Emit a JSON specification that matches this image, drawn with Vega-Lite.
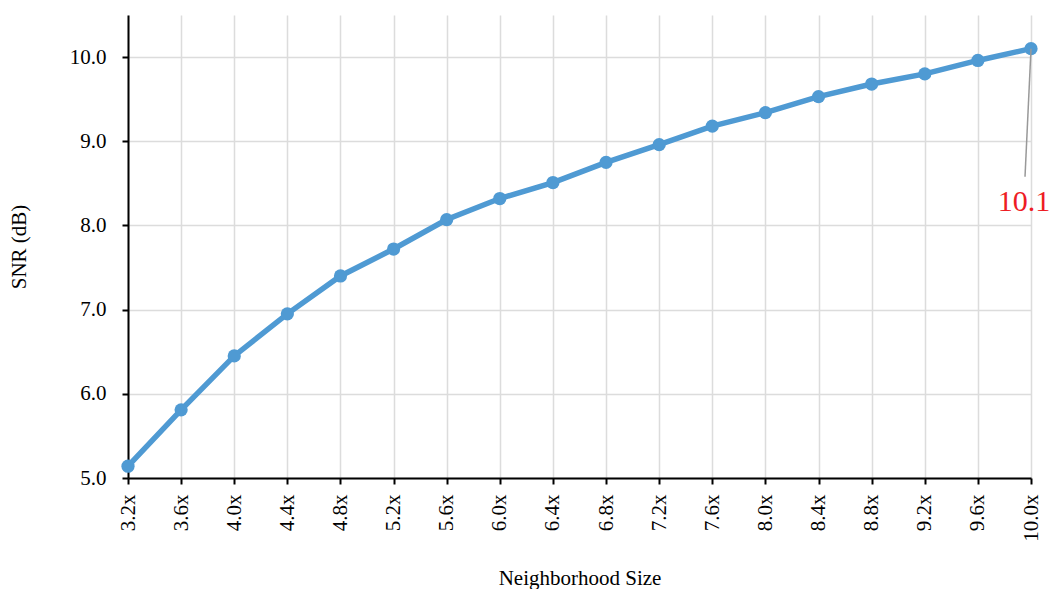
{
  "$schema": "https://vega.github.io/schema/vega-lite/v6.json",
  "width": 903,
  "height": 463,
  "autosize": {"type": "none"},
  "padding": {"left": 128, "top": 15, "right": 20, "bottom": 111},
  "background": "white",
  "config": {
    "font": "Liberation Serif",
    "view": {"stroke": null},
    "axis": {
      "labelFont": "Liberation Serif",
      "titleFont": "Liberation Serif",
      "labelFontSize": 21,
      "titleFontSize": 21,
      "titleFontWeight": "normal",
      "labelColor": "#000",
      "titleColor": "#000",
      "domainColor": "#000",
      "domainWidth": 2,
      "tickColor": "#000",
      "tickWidth": 2,
      "tickSize": 6,
      "gridColor": "#dcdcdc",
      "gridWidth": 1.5
    }
  },
  "data": {
    "values": [
      {"size": "3.2x", "snr": 5.14},
      {"size": "3.6x", "snr": 5.81},
      {"size": "4.0x", "snr": 6.45},
      {"size": "4.4x", "snr": 6.95},
      {"size": "4.8x", "snr": 7.40},
      {"size": "5.2x", "snr": 7.72},
      {"size": "5.6x", "snr": 8.07},
      {"size": "6.0x", "snr": 8.32},
      {"size": "6.4x", "snr": 8.51},
      {"size": "6.8x", "snr": 8.75},
      {"size": "7.2x", "snr": 8.96},
      {"size": "7.6x", "snr": 9.18},
      {"size": "8.0x", "snr": 9.34},
      {"size": "8.4x", "snr": 9.53},
      {"size": "8.8x", "snr": 9.68},
      {"size": "9.2x", "snr": 9.80},
      {"size": "9.6x", "snr": 9.96},
      {"size": "10.0x", "snr": 10.1}
    ]
  },
  "encoding": {
    "x": {
      "field": "size",
      "type": "ordinal",
      "sort": null,
      "scale": {"type": "point", "padding": 0},
      "axis": {
        "title": "Neighborhood Size",
        "labelAngle": 270,
        "labelPadding": 10,
        "titlePadding": 26,
        "grid": true
      }
    },
    "y": {
      "field": "snr",
      "type": "quantitative",
      "scale": {"domain": [5, 10.5], "nice": false, "zero": false},
      "axis": {
        "title": "SNR (dB)",
        "values": [5, 6, 7, 8, 9, 10],
        "format": ".1f",
        "labelPadding": 16,
        "titlePadding": 40,
        "grid": true
      }
    }
  },
  "layer": [
    {
      "mark": {"type": "line", "color": "#4f9ad3", "strokeWidth": 5.5}
    },
    {
      "mark": {"type": "point", "filled": true, "color": "#4f9ad3", "size": 175, "opacity": 1}
    },
    {
      "transform": [{"filter": "datum.size === '10.0x'"}],
      "mark": {"type": "rule", "color": "#999999", "strokeWidth": 1.5, "x2Offset": -6, "y2Offset": 128},
      "encoding": {
        "x2": {"field": "size"},
        "y2": {"field": "snr"}
      }
    },
    {
      "transform": [{"filter": "datum.size === '10.0x'"}],
      "mark": {"type": "text", "color": "#ee1c24", "fontSize": 30, "align": "center", "baseline": "alphabetic", "dx": -7, "dy": 162},
      "encoding": {
        "text": {"field": "snr", "type": "quantitative", "format": ".1f"}
      }
    }
  ]
}
